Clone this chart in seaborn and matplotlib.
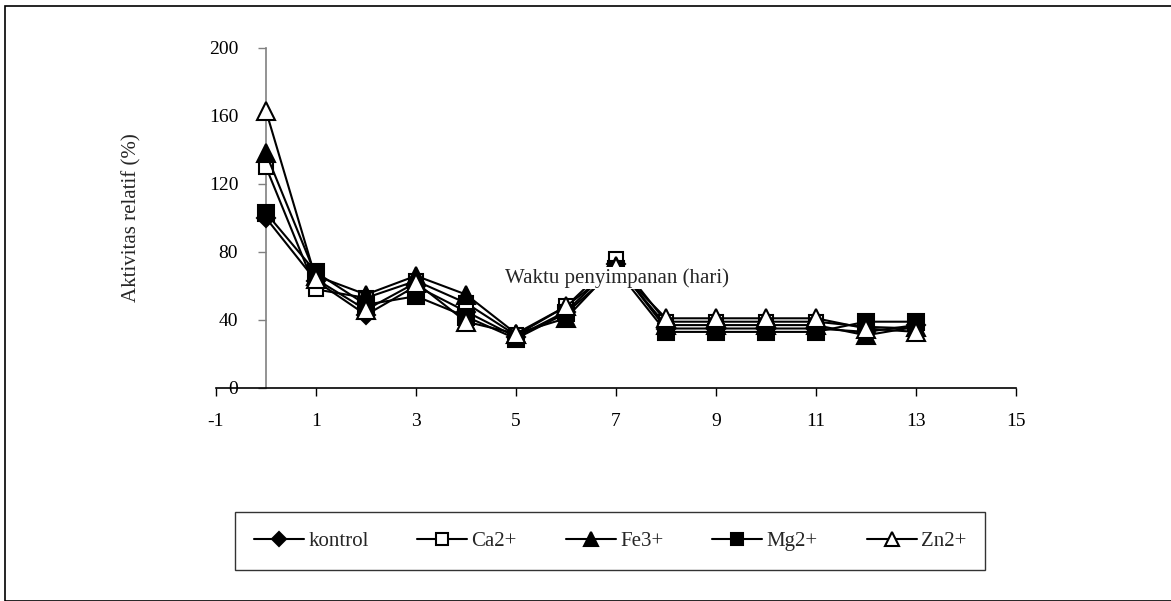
import matplotlib
matplotlib.use("Agg")
import matplotlib.pyplot as plt
import seaborn as sns
import pandas as pd
from matplotlib.patches import Rectangle

days = [0, 1, 2, 3, 4, 5, 6, 7, 8, 9, 10, 11, 12, 13]
kontrol = [100, 63, 43, 60, 45, 30, 45, 73, 35, 35, 35, 35, 33, 37]
ca2 = [130, 58, 53, 63, 50, 31, 48, 76, 39, 39, 39, 39, 36, 35]
fe3 = [138, 66, 55, 66, 55, 32, 41, 72, 37, 37, 37, 37, 31, 36]
mg2 = [103, 68, 49, 54, 42, 29, 44, 70, 33, 33, 33, 33, 39, 39]
zn2 = [163, 64, 46, 62, 39, 32, 48, 71, 41, 41, 41, 41, 35, 33]
series_names = ["kontrol", "Ca2+", "Fe3+", "Mg2+", "Zn2+"]
x_ticks = [-1, 1, 3, 5, 7, 9, 11, 13, 15]
y_ticks = [0, 40, 80, 120, 160, 200]

df = pd.DataFrame({"hari": days * 5,
                   "aktivitas": kontrol + ca2 + fe3 + mg2 + zn2,
                   "seri": sum([[n] * len(days) for n in series_names], [])})

sns.set_theme(style="white")
plt.rcParams["font.family"] = ["Liberation Serif", "DejaVu Serif"]
plt.rcParams["axes.unicode_minus"] = False

fig = plt.figure(figsize=(11.71, 6.01), dpi=100)
ax = fig.add_axes([216 / 1171, 1 - 388 / 601, 800 / 1171, 340 / 601])

styles = {
    "kontrol": dict(marker="D", mfc="black", ms=9),
    "Ca2+": dict(marker="s", mfc="white", ms=10.5),
    "Fe3+": dict(marker="^", mfc="black", ms=12.5),
    "Mg2+": dict(marker="s", mfc="black", ms=11),
    "Zn2+": dict(marker="^", mfc="white", ms=12.5),
}
for i, name in enumerate(series_names):
    st = styles[name]
    sns.lineplot(data=df[df["seri"] == name], x="hari", y="aktivitas", ax=ax,
                 color="black", lw=1.5, marker=st["marker"], markersize=st["ms"],
                 markerfacecolor=st["mfc"], markeredgecolor="black",
                 markeredgewidth=1.5, label=name, zorder=3 + i)

ax.set_xlim(-1, 15)
ax.set_ylim(0, 200)
ax.set_xticks(x_ticks)
ax.set_yticks(y_ticks)
ax.tick_params(axis="both", labelsize=14, colors="black")
ax.tick_params(axis="x", direction="out", length=6, width=1, pad=12, bottom=True)
ax.tick_params(axis="y", direction="out", length=6, width=1, pad=14, left=True, color="#808080")

for s in ["top", "right"]:
    ax.spines[s].set_visible(False)
ax.spines["left"].set_position(("data", 0))
ax.spines["left"].set_color("#808080")
ax.spines["left"].set_linewidth(1.2)
ax.spines["bottom"].set_color("black")
ax.spines["bottom"].set_linewidth(1.2)

ax.set_ylabel("Aktivitas relatif (%)", fontsize=15)
ax.yaxis.set_label_coords(-0.093, 0.5)
ax.set_xlabel("Waktu penyimpanan (hari)", fontsize=15,
              bbox=dict(facecolor="white", edgecolor="none", pad=1))
ax.xaxis.set_label_coords(0.501, 0.3235)
ax.xaxis.label.set_va("center")
ax.xaxis.set_zorder(20)

ax.get_legend().remove()
handles, labels = ax.get_legend_handles_labels()
leg = fig.legend(handles, labels, ncol=5, loc="center",
                 bbox_to_anchor=(610 / 1171, 1 - 541 / 601), fontsize=15,
                 frameon=True, fancybox=False, edgecolor="black",
                 handlelength=2.4, columnspacing=2.35, handletextpad=0.2,
                 borderpad=0.9, markerscale=0.8)
leg.get_frame().set_linewidth(1.0)
leg.get_frame().set_boxstyle("square", pad=0)

fig.patches.append(Rectangle((5 / 1171, 0), 1.2, 1 - 6 / 601, transform=fig.transFigure,
                             fill=False, edgecolor="black", lw=1.2))

fig.savefig("out.png", dpi=100, facecolor="white")
